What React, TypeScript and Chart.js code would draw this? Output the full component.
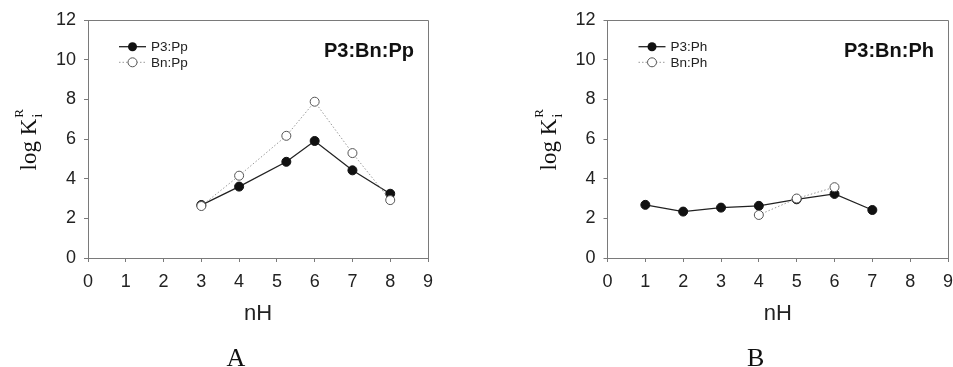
import React, { useEffect, useRef } from "react";
import { Chart, registerables } from "chart.js";

Chart.register(...registerables);

// ---- data ----
const nhA_P3 = [3, 4, 5.25, 6, 7, 8];
const kA_P3 = [2.67, 3.6, 4.85, 5.9, 4.42, 3.24];
const nhA_Bn = [3, 4, 5.25, 6, 7, 8];
const kA_Bn = [2.62, 4.15, 6.16, 7.88, 5.29, 2.92];

const nhB_P3 = [1, 2, 3, 4, 5, 6, 7];
const kB_P3 = [2.68, 2.34, 2.54, 2.63, 2.96, 3.23, 2.42];
const nhB_Bn = [4, 5, 6];
const kB_Bn = [2.17, 3.0, 3.57];

const xTicks = [0, 1, 2, 3, 4, 5, 6, 7, 8, 9];
const yTicks = [0, 2, 4, 6, 8, 10, 12];

const xTitle = "nH";
const panelA = { title: "P3:Bn:Pp", legend: ["P3:Pp", "Bn:Pp"], letter: "A" };
const panelB = { title: "P3:Bn:Ph", legend: ["P3:Ph", "Bn:Ph"], letter: "B" };

const SANS = "Arial, 'Liberation Sans', Helvetica, sans-serif";
const SERIF = "'Times New Roman', 'Liberation Serif', serif";
const H = 367;
const PLOT_TOP = 20;
const PLOT_BOTTOM = 258;
const AXIS_COLOR = "#7a7a7a";

function toXY(xs: number[], ys: number[]) {
  return xs.map((x, i) => ({ x, y: ys[i] }));
}

function makeChart(
  canvas: HTMLCanvasElement,
  width: number,
  plotLeft: number,
  plotRight: number,
  info: { title: string; legend: string[]; letter: string },
  p3: { x: number; y: number }[],
  bn: { x: number; y: number }[]
) {
  const decor = {
    id: "decor",
    beforeDatasetsDraw(chart: any) {
      const ctx = chart.ctx;
      const a = chart.chartArea;
      ctx.save();
      ctx.strokeStyle = AXIS_COLOR;
      ctx.lineWidth = 1;
      ctx.beginPath();
      ctx.moveTo(a.left, a.top + 0.5);
      ctx.lineTo(a.right + 0.5, a.top + 0.5);
      ctx.lineTo(a.right + 0.5, a.bottom);
      ctx.stroke();
      ctx.restore();
    },
    afterDraw(chart: any) {
      const ctx = chart.ctx;
      const a = chart.chartArea;
      ctx.save();
      // legend
      const lx0 = a.left + 31;
      const lx1 = a.left + 58;
      const mx = a.left + 44.5;
      const tx = a.left + 63;
      const rows = [a.top + 26.7, a.top + 42.3];
      // row 1: solid line with filled marker
      ctx.strokeStyle = "#222";
      ctx.lineWidth = 1.3;
      ctx.setLineDash([]);
      ctx.beginPath();
      ctx.moveTo(lx0, rows[0]);
      ctx.lineTo(lx1, rows[0]);
      ctx.stroke();
      ctx.fillStyle = "#111";
      ctx.beginPath();
      ctx.arc(mx, rows[0], 4.5, 0, Math.PI * 2);
      ctx.fill();
      // row 2: dotted line with open marker
      ctx.strokeStyle = "#999";
      ctx.lineWidth = 1;
      ctx.setLineDash([1.5, 2]);
      ctx.beginPath();
      ctx.moveTo(lx0, rows[1]);
      ctx.lineTo(lx1, rows[1]);
      ctx.stroke();
      ctx.setLineDash([]);
      ctx.fillStyle = "#fff";
      ctx.strokeStyle = "#555";
      ctx.beginPath();
      ctx.arc(mx, rows[1], 4.5, 0, Math.PI * 2);
      ctx.fill();
      ctx.stroke();
      ctx.fillStyle = "#222";
      ctx.font = `13.5px ${SANS}`;
      ctx.textAlign = "left";
      ctx.textBaseline = "middle";
      ctx.fillText(info.legend[0], tx, rows[0] + 0.5);
      ctx.fillText(info.legend[1], tx, rows[1] + 0.5);

      // title in plot
      ctx.font = `bold 20px ${SANS}`;
      ctx.textAlign = "right";
      ctx.textBaseline = "middle";
      ctx.fillStyle = "#111";
      ctx.fillText(info.title, a.right - 14, a.top + 31);

      // x title
      const cx = (a.left + a.right) / 2;
      ctx.font = `22px ${SANS}`;
      ctx.textAlign = "center";
      ctx.textBaseline = "middle";
      ctx.fillStyle = "#222";
      ctx.fillText(xTitle, cx, 314);

      // panel letter
      ctx.font = `26px ${SERIF}`;
      ctx.textBaseline = "alphabetic";
      ctx.fillStyle = "#111";
      ctx.fillText(info.letter, cx - 22, 366);

      // y title: log K_i^R (rotated)
      const cy = (a.top + a.bottom) / 2;
      const bx = a.left - 52;
      ctx.translate(bx, cy);
      ctx.rotate(-Math.PI / 2);
      ctx.textAlign = "left";
      ctx.textBaseline = "alphabetic";
      const mainFont = `23px ${SERIF}`;
      const subFont = `15px ${SERIF}`;
      ctx.font = mainFont;
      const wMain = ctx.measureText("log K").width;
      ctx.font = subFont;
      const wSub = ctx.measureText("i").width;
      const wSup = ctx.measureText("R").width;
      const total = wMain + Math.max(wSub, wSup) + 1;
      let x = -total / 2;
      ctx.font = mainFont;
      ctx.fillText("log K", x, 0);
      x += wMain + 1;
      ctx.font = subFont;
      ctx.fillText("i", x, 6);
      ctx.font = `13px ${SERIF}`;
      ctx.fillText("R", x, -13);
      ctx.restore();
    },
  };

  return new Chart(canvas, {
    type: "line",
    data: {
      datasets: [
        {
          label: info.legend[1],
          data: bn,
          borderColor: "#999",
          borderWidth: 1,
          borderDash: [1.5, 2],
          pointRadius: 4.5,
          pointBackgroundColor: "#fff",
          pointBorderColor: "#555",
          pointBorderWidth: 1,
          tension: 0,
          fill: false,
        },
        {
          label: info.legend[0],
          data: p3,
          borderColor: "#222",
          borderWidth: 1.3,
          pointRadius: 4.5,
          pointBackgroundColor: "#111",
          pointBorderColor: "#111",
          pointBorderWidth: 1,
          tension: 0,
          fill: false,
        },
      ],
    },
    options: {
      animation: false,
      responsive: false,
      maintainAspectRatio: false,
      devicePixelRatio: 1,
      layout: {
        autoPadding: false,
        padding: { left: 0, right: width - plotRight, top: PLOT_TOP, bottom: 0 },
      } as any,
      plugins: {
        legend: { display: false },
        tooltip: { enabled: false },
        title: { display: false },
      },
      scales: {
        x: {
          type: "linear",
          min: 0,
          max: 9,
          afterBuildTicks: (s: any) => {
            s.ticks = xTicks.map((v) => ({ value: v }));
          },
          afterFit: (s: any) => {
            s.height = H - PLOT_BOTTOM;
            s.paddingLeft = 0;
            s.paddingRight = 0;
          },
          ticks: {
            color: "#222",
            font: { family: SANS, size: 18 },
            padding: 9,
            maxRotation: 0,
            autoSkip: false,
          },
          grid: {
            drawOnChartArea: false,
            drawTicks: true,
            tickLength: 4,
            color: AXIS_COLOR,
          },
          border: { display: true, color: AXIS_COLOR, width: 1 },
        },
        y: {
          type: "linear",
          min: 0,
          max: 12,
          afterBuildTicks: (s: any) => {
            s.ticks = yTicks.map((v) => ({ value: v }));
          },
          afterFit: (s: any) => {
            s.width = plotLeft;
            s.paddingTop = 0;
            s.paddingBottom = 0;
          },
          ticks: {
            color: "#222",
            font: { family: SANS, size: 18 },
            padding: 8,
            autoSkip: false,
          },
          grid: {
            drawOnChartArea: false,
            drawTicks: true,
            tickLength: 4,
            color: AXIS_COLOR,
          },
          border: { display: true, color: AXIS_COLOR, width: 1 },
        },
      },
    },
    plugins: [decor],
  } as any);
}

export default function App() {
  const refA = useRef<HTMLCanvasElement>(null);
  const refB = useRef<HTMLCanvasElement>(null);

  useEffect(() => {
    document.body.style.margin = "0";
    const cA = makeChart(refA.current!, 476, 88, 428, panelA, toXY(nhA_P3, kA_P3), toXY(nhA_Bn, kA_Bn));
    const cB = makeChart(refB.current!, 477, 131.5, 472, panelB, toXY(nhB_P3, kB_P3), toXY(nhB_Bn, kB_Bn));
    return () => {
      cA.destroy();
      cB.destroy();
    };
  }, []);

  return (
    <div style={{ position: "relative", width: 953, height: H, background: "#fff" }}>
      <canvas ref={refA} width={476} height={H} style={{ position: "absolute", left: 0, top: 0, width: 476, height: H }} />
      <canvas ref={refB} width={477} height={H} style={{ position: "absolute", left: 476, top: 0, width: 477, height: H }} />
    </div>
  );
}
